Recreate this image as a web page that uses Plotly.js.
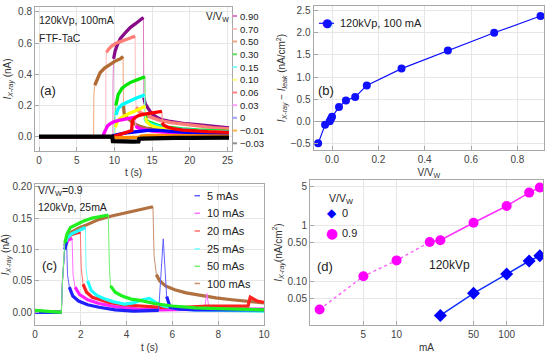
<!DOCTYPE html>
<html><head><meta charset="utf-8">
<script src="https://cdn.plot.ly/plotly-3.0.1.min.js"></script>
<style>html,body{margin:0;padding:0;background:#fff}#chart{width:550px;height:353px}</style>
</head><body><div id="chart"></div>
<script>
// ---------- Panel (a): I_X-ray vs t for several V/V_W ----------
const aLabels = ['0.90','0.70','0.50','0.30','0.15','0.10','0.06','0.03','0','\u22120.01','\u22120.03'];
const a_t_090 = [0, 9.8, 9.82, 9.9, 10.1, 10.4, 10.8, 11.5, 12.1, 12.8, 13.4, 13.85, 13.9, 14.1, 14.5, 15.0, 15.6, 16.2, 17.2, 18.3, 19.5, 21, 22.5, 24, 25.2];
const a_v_090 = [0, 0, 0.35, 0.50, 0.55, 0.59, 0.63, 0.67, 0.70, 0.725, 0.745, 0.765, 0.25, 0.21, 0.18, 0.145, 0.125, 0.11, 0.10, 0.09, 0.083, 0.077, 0.07, 0.062, 0.056];
const a_t_070 = [0, 8.85, 8.87, 8.95, 9.2, 9.6, 10.2, 10.8, 11.5, 12.2, 12.75, 12.8, 12.9, 13.3, 14, 15, 16, 17.5, 19, 21, 23, 25.2];
const a_v_070 = [0, 0, 0.4, 0.54, 0.56, 0.58, 0.60, 0.61, 0.625, 0.635, 0.645, 0.25, 0.19, 0.16, 0.14, 0.12, 0.105, 0.09, 0.08, 0.068, 0.058, 0.05];
const a_t_050 = [0, 7.25, 7.27, 7.4, 7.7, 8.1, 8.7, 9.4, 10.1, 10.8, 11.15, 11.2, 11.3, 11.7, 12.2, 12.8, 13.4, 14.2, 15, 16.5, 18, 20, 22.5, 25.2];
const a_v_050 = [0, 0, 0.26, 0.33, 0.37, 0.41, 0.44, 0.465, 0.485, 0.50, 0.515, 0.2, 0.15, 0.12, 0.10, 0.08, 0.066, 0.055, 0.05, 0.042, 0.036, 0.03, 0.026, 0.022];
const a_t_030 = [0, 10.0, 10.05, 10.2, 10.5, 11, 11.5, 12.2, 13, 13.6, 14.05, 14.1, 14.2, 14.5, 15, 15.7, 16.5, 17.5, 19, 21, 23, 25.2];
const a_v_030 = [0, 0, 0.12, 0.2, 0.27, 0.31, 0.33, 0.35, 0.365, 0.375, 0.385, 0.14, 0.11, 0.095, 0.085, 0.075, 0.065, 0.058, 0.05, 0.043, 0.038, 0.034];
const a_t_015 = [0, 10.0, 10.05, 10.2, 10.5, 11, 11.6, 12.3, 13, 13.6, 14.0, 14.05, 14.2, 14.6, 15.2, 16, 17, 18.5, 20, 22, 25.2];
const a_v_015 = [0, 0, 0.08, 0.14, 0.18, 0.205, 0.22, 0.235, 0.25, 0.26, 0.27, 0.12, 0.10, 0.085, 0.075, 0.065, 0.055, 0.048, 0.042, 0.036, 0.03];
const a_t_010 = [0, 10.1, 10.15, 10.4, 10.8, 11.3, 12, 12.7, 13.3, 13.8, 14.1, 14.15, 14.3, 14.7, 15.3, 16, 17, 18.5, 20, 22.5, 25.2];
const a_v_010 = [0, 0, 0.06, 0.10, 0.12, 0.135, 0.15, 0.163, 0.175, 0.185, 0.195, 0.12, 0.095, 0.077, 0.064, 0.055, 0.048, 0.04, 0.035, 0.03, 0.026];
const a_t_006 = [0, 9.8, 10.5, 11.5, 12.3, 12.35, 12.5, 12.8, 13.2, 13.8, 14.5, 15.2, 15.8, 16.3, 16.35, 16.5, 17, 17.8, 19, 20.5, 22.5, 25.2];
const a_v_006 = [0, 0, 0.01, 0.025, 0.04, 0.09, 0.11, 0.125, 0.135, 0.143, 0.15, 0.155, 0.16, 0.163, 0.09, 0.075, 0.062, 0.052, 0.043, 0.037, 0.032, 0.028];
const a_t_003 = [0, 8.5, 8.6, 8.8, 9.1, 9.5, 10, 10.6, 11.3, 12, 12.5, 12.8, 12.85, 13, 13.5, 14.2, 15, 16.5, 18, 20, 22.5, 25.2];
const a_v_003 = [0, 0, 0.02, 0.045, 0.07, 0.085, 0.097, 0.105, 0.112, 0.118, 0.122, 0.126, 0.07, 0.06, 0.05, 0.042, 0.036, 0.03, 0.026, 0.022, 0.019, 0.016];
const a_t_000 = [0, 9.5, 10, 10.5, 11, 12, 12.8, 13.5, 14.5, 15.5, 16.5, 18, 20, 22.5, 25.2];
const a_v_000 = [0, 0, 0.008, 0.015, 0.02, 0.027, 0.032, 0.036, 0.04, 0.042, 0.04, 0.033, 0.026, 0.02, 0.016];
const a_t_m001 = [0, 9.7, 9.8, 10.5, 11.5, 12.5, 13.3, 13.5, 14.5, 16, 18, 20, 22.5, 25.2];
const a_v_m001 = [0, 0, -0.008, -0.006, -0.005, -0.004, -0.004, 0.004, 0.008, 0.008, 0.006, 0.005, 0.004, 0.004];
const a_t_m003 = [0, 9.7, 9.8, 10.5, 11.5, 12.5, 13.2, 13.3, 13.6, 14.5, 16, 18, 20, 22.5, 25.2];
const a_v_m003 = [0, 0, -0.028, -0.03, -0.031, -0.031, -0.03, -0.014, -0.012, -0.01, -0.009, -0.008, -0.008, -0.007, -0.006];

// ---------- Panel (b) ----------
const b_ratio = [-0.06, -0.03, -0.01, -0.005, 0, 0.03, 0.06, 0.10, 0.15, 0.30, 0.50, 0.70, 0.90];
const b_current = [-0.5, -0.08, 0.0, 0.05, 0.1, 0.32, 0.47, 0.55, 0.81, 1.19, 1.6, 2.0, 2.38];

// ---------- Panel (c) ----------
const cLabels = ['5 mAs','10 mAs','20 mAs','25 mAs','50 mAs','100 mAs'];
const c_t_5 = [0, 1.15, 1.2, 1.3, 1.38, 1.42, 1.5, 1.65, 1.9, 2.3, 2.8, 3.5, 4.3, 5.0, 5.4, 5.6, 5.75, 5.9, 6.3, 7, 8, 9, 10];
const c_v_5 = [0, 0, 0.05, 0.1, 0.112, 0.06, 0.04, 0.026, 0.018, 0.012, 0.008, 0.004, 0.002, 0.002, 0.003, 0.117, 0.025, 0.008, 0.005, 0.004, 0.004, 0.004, 0.004];
const c_t_10 = [0, 1.15, 1.2, 1.3, 1.45, 1.62, 1.66, 1.75, 1.95, 2.3, 2.8, 3.5, 4.5, 5.5, 6.5, 7.4, 7.5, 7.6, 8.5, 10];
const c_v_10 = [0, 0, 0.05, 0.105, 0.115, 0.118, 0.06, 0.04, 0.028, 0.02, 0.014, 0.009, 0.005, 0.004, 0.004, 0.005, 0.03, 0.006, 0.005, 0.005];
const c_t_20 = [0, 1.15, 1.2, 1.3, 1.4, 1.6, 1.85, 1.98, 2.02, 2.1, 2.25, 2.5, 2.8, 3.2, 3.8, 4.5, 5.5, 6.5, 7.5, 8.5, 9.3, 9.4, 9.7, 10];
const c_v_20 = [0, 0, 0.05, 0.105, 0.118, 0.124, 0.127, 0.128, 0.07, 0.045, 0.032, 0.024, 0.02, 0.016, 0.012, 0.01, 0.008, 0.008, 0.01, 0.01, 0.01, 0.024, 0.018, 0.016];
const c_t_25 = [0, 1.15, 1.2, 1.3, 1.4, 1.6, 1.9, 2.2, 2.23, 2.3, 2.45, 2.7, 3.0, 3.4, 3.9, 4.3, 4.7, 5.0, 5.3, 5.6, 6.2, 7, 8.5, 10];
const c_v_25 = [0, 0, 0.05, 0.105, 0.118, 0.125, 0.13, 0.135, 0.07, 0.05, 0.035, 0.027, 0.022, 0.017, 0.013, 0.015, 0.02, 0.022, 0.015, 0.01, 0.006, 0.004, 0.003, 0.002];
const c_t_50 = [0, 1.15, 1.2, 1.3, 1.4, 1.55, 1.8, 2.1, 2.5, 2.9, 3.2, 3.25, 3.3, 3.5, 3.8, 4.2, 4.6, 5.2, 6, 7, 8, 9, 10];
const c_v_50 = [0.003, 0, 0.05, 0.11, 0.125, 0.135, 0.14, 0.145, 0.15, 0.153, 0.155, 0.07, 0.042, 0.032, 0.026, 0.021, 0.019, 0.014, 0.01, 0.007, 0.006, 0.005, 0.004];
const c_t_100 = [0, 1.15, 1.2, 1.3, 1.4, 1.6, 1.9, 2.3, 2.8, 3.3, 3.8, 4.3, 4.8, 5.15, 5.2, 5.3, 5.45, 5.7, 6.1, 6.6, 7.2, 7.9, 8.6, 9.3, 10];
const c_v_100 = [0.002, 0, 0.05, 0.105, 0.12, 0.128, 0.134, 0.14, 0.148, 0.153, 0.157, 0.161, 0.164, 0.168, 0.09, 0.06, 0.05, 0.042, 0.036, 0.031, 0.027, 0.023, 0.02, 0.017, 0.015];

// ---------- Panel (d) ----------
const d_mA_09 = [2, 5, 10, 20, 25, 50, 100, 160, 200];
const d_I_09 = [0.032, 0.125, 0.24, 0.51, 0.55, 1.13, 2.25, 3.9, 4.8];
const d_mA_0 = [25, 50, 100, 160, 200];
const d_I_0 = [0.025, 0.062, 0.137, 0.234, 0.29];

// ---------- layout helpers ----------
const W = 550, H = 353;
const FONT = 'Liberation Sans, Arial, sans-serif';
const GLYPH = 'DejaVu Sans, sans-serif';
const px = x => x / W, py = y => 1 - y / H;

const dom = {
  a: {x: [px(35), px(232)], y: [py(150.7), py(7.3)], xr: [-0.53, 25.6], yr: [-0.0898, 0.8301]},
  b: {x: [px(313.5), px(544)], y: [py(150), py(6)], xr: [-0.08, 0.915], yr: [-0.65, 2.606]},
  c: {x: [px(35), px(264)], y: [py(325), py(184.3)], xr: [0, 10], yr: [-0.0202, 0.2038]},
  d: {x: [px(310), px(543)], y: [py(325), py(180)], xr: [0.214, 2.33], yr: [-1.773, 0.816]}
};
function unitPx(d) {
  return [(d.x[1]-d.x[0])*W/(d.xr[1]-d.xr[0]), (d.y[1]-d.y[0])*H/(d.yr[1]-d.yr[0])];
}
// break the thick (dense) part of a record at its fast transitions
function thickPart(t, v, ux, uy) {
  const X = [], Y = [];
  for (let i = 0; i < t.length; i++) {
    X.push(t[i]); Y.push(v[i]);
    if (i < t.length - 1) {
      const dx = Math.abs(t[i+1]-t[i])*ux, dy = Math.abs(v[i+1]-v[i])*uy;
      if (dy > 8 && dy > 6*dx) { X.push(null); Y.push(null); }
    }
  }
  return {X, Y};
}

const traces = [];
// panel (a)
const aSeries = [[a_t_090,a_v_090],[a_t_070,a_v_070],[a_t_050,a_v_050],[a_t_030,a_v_030],[a_t_015,a_v_015],
  [a_t_010,a_v_010],[a_t_006,a_v_006],[a_t_003,a_v_003],[a_t_000,a_v_000],[a_t_m001,a_v_m001],[a_t_m003,a_v_m003]];
const aDark = ['#880a88','#ff7f78','#b06a32','#00e600','#00ffff','#ffff00','#ff0000','#ff00ff','#0000ff','#ff8c00','#000000'];
const aLight = ['#e07cc8','#ffc0c0','#f0a880','#60e060','#80ffff','#ffff80','#ff8080','#ffa0ff','#a0a0ff','#ffb050','#909090'];
const aOrder = [0,1,2,3,4,5,7,8,6,9,10];
const [aux, auy] = unitPx(dom.a);
aOrder.forEach(i => {
  const [t, v] = aSeries[i];
  traces.push({x: t, y: v, xaxis: 'x', yaxis: 'y', mode: 'lines', line: {color: aLight[i], width: 1}, hoverinfo: 'skip'});
  const k = thickPart(t, v, aux, auy);
  traces.push({x: k.X, y: k.Y, xaxis: 'x', yaxis: 'y', mode: 'lines', connectgaps: false,
    line: {color: aDark[i], width: i === 10 ? 4.2 : 3.3}, hoverinfo: 'skip'});
});
// panel (b)
traces.push({x: b_ratio, y: b_current, xaxis: 'x2', yaxis: 'y2', mode: 'lines+markers',
  line: {color: '#1010ff', width: 1.2}, marker: {color: '#1010ff', size: 8}});
// panel (c)
const cSeries = [[c_t_5,c_v_5],[c_t_10,c_v_10],[c_t_20,c_v_20],[c_t_25,c_v_25],[c_t_50,c_v_50],[c_t_100,c_v_100]];
const cDark = ['#2020ff','#ff20ff','#ff2020','#20ffff','#20f020','#b07040'];
const cLight = ['#6060ff','#ff70ff','#ff7070','#70ffff','#70f070','#c89070'];
const cOrder = [5,1,2,3,0,4];
const [cux, cuy] = unitPx(dom.c);
cOrder.forEach(i => {
  const [t, v] = cSeries[i];
  traces.push({x: t, y: v, xaxis: 'x3', yaxis: 'y3', mode: 'lines', line: {color: cLight[i], width: 1}, hoverinfo: 'skip'});
  const k = thickPart(t, v, cux, cuy);
  traces.push({x: k.X, y: k.Y, xaxis: 'x3', yaxis: 'y3', mode: 'lines', connectgaps: false,
    line: {color: cDark[i], width: 3.2}, hoverinfo: 'skip'});
});
// panel (d)
traces.push({x: d_mA_09.slice(0,4), y: d_I_09.slice(0,4), xaxis: 'x4', yaxis: 'y4', mode: 'lines',
  line: {color: '#ff55ff', width: 1.3, dash: 'dot'}});
traces.push({x: d_mA_09.slice(3), y: d_I_09.slice(3), xaxis: 'x4', yaxis: 'y4', mode: 'lines',
  line: {color: '#ff30ff', width: 1.5}});
traces.push({x: d_mA_09, y: d_I_09, xaxis: 'x4', yaxis: 'y4', mode: 'markers',
  marker: {color: '#ff00ff', size: 10, symbol: 'circle'}});
traces.push({x: d_mA_0, y: d_I_0, xaxis: 'x4', yaxis: 'y4', mode: 'lines+markers',
  line: {color: '#1030ff', width: 1.5}, marker: {color: '#0000ff', size: 10, symbol: 'diamond'}});

const axBase = {showline: true, mirror: true, linecolor: '#a8a8a8', linewidth: 1, ticks: 'inside', ticklen: 4,
  tickcolor: '#a8a8a8', showgrid: true, gridcolor: '#e6e6e6', zeroline: false,
  tickfont: {family: FONT, size: 10, color: '#444'}};
function ax(o) { return Object.assign({}, axBase, o); }
const ttl = (text) => ({text, font: {family: FONT, size: 10, color: '#333'}});
const Ix = '<i>I</i><sub><i>X-ray</i></sub>';

const layout = {
  width: W, height: H, margin: {l: 0, r: 0, t: 0, b: 0}, showlegend: false,
  paper_bgcolor: '#fff', plot_bgcolor: '#fff', font: {family: FONT, size: 10},
  xaxis: ax({domain: dom.a.x, range: dom.a.xr, anchor: 'y', dtick: 5, title: Object.assign(ttl('t (s)'), {standoff: 4})}),
  yaxis: ax({domain: dom.a.y, range: dom.a.yr, anchor: 'x', dtick: 0.2, tickformat: '.1f', title: Object.assign(ttl(Ix + ' (nA)'), {standoff: 4})}),
  xaxis2: ax({domain: dom.b.x, range: dom.b.xr, anchor: 'y2', dtick: 0.2, tickformat: '.1f', title: Object.assign(ttl('V/V<sub>W</sub>'), {standoff: 4})}),
  yaxis2: ax({domain: dom.b.y, range: dom.b.yr, anchor: 'x2', dtick: 0.5, tickformat: '.1f', zeroline: true, zerolinecolor: '#a0a0a0', zerolinewidth: 1,
    title: Object.assign(ttl(Ix + ' \u2212 <i>I</i><sub><i>leak</i></sub> (nA/cm<sup>2</sup>)'), {standoff: 3})}),
  xaxis3: ax({domain: dom.c.x, range: dom.c.xr, anchor: 'y3', dtick: 2, title: Object.assign(ttl('t (s)'), {standoff: 4})}),
  yaxis3: ax({domain: dom.c.y, range: dom.c.yr, anchor: 'x3', dtick: 0.05, tickformat: '.2f', title: Object.assign(ttl(Ix + ' (nA)'), {standoff: 4})}),
  xaxis4: ax({domain: dom.d.x, range: dom.d.xr, anchor: 'y4', type: 'log', tickvals: [5, 10, 50, 100], ticktext: ['5','10','50','100'],
    title: Object.assign(ttl('mA'), {standoff: 4})}),
  yaxis4: ax({domain: dom.d.y, range: dom.d.yr, anchor: 'x4', type: 'log', tickvals: [0.05, 0.1, 0.5, 1, 5], ticktext: ['0.05','0.10','0.50','1','5'],
    title: Object.assign(ttl(Ix + '(nA/cm<sup>2</sup>)'), {standoff: 3})}),
  annotations: [], shapes: []
};

function ann(text, x, y, size, extra) {
  layout.annotations.push(Object.assign({text, x: px(x), y: py(y), xref: 'paper', yref: 'paper', showarrow: false,
    xanchor: 'left', yanchor: 'middle', borderpad: 0, font: {family: FONT, size, color: '#222'}}, extra || {}));
}
function seg(x0, x1, y, color, width) {
  layout.shapes.push({type: 'line', xref: 'paper', yref: 'paper', x0: px(x0), x1: px(x1), y0: py(y), y1: py(y),
    line: {color, width}});
}
// panel (a) texts and legend
ann('120kVp, 100mA', 38, 20, 10.5);
ann('FTF-TaC', 38, 37.5, 10.5);
ann('(a)', 39, 90, 13);
ann('V/V<sub>W</sub>', 230, 17, 10, {xanchor: 'right'});
const aLegY = [16, 29, 41.5, 54.3, 67, 79.8, 92.5, 105.2, 117.8, 130.6, 143.3];
aLabels.forEach((lab, i) => { seg(232.5, 237, aLegY[i], aLight[i], 2); ann(lab, 238.5, aLegY[i], 9.5); });
// panel (b)
ann('(b)', 317, 90, 13);
seg(319, 334, 23.3, '#1010ff', 1.2);
ann('\u25CF', 326.7, 23.3, 12, {xanchor: 'center', font: {family: GLYPH, size: 12, color: '#1010ff'}});
ann('120kVp, 100 mA', 339, 23.3, 11);
// panel (c)
ann('V/V<sub>W</sub>=0.9', 37, 191, 10.5);
ann('120kVp, 25mA', 37, 207, 10.5);
ann('(c)', 41, 265, 13);
const cLegY = [195.7, 213.3, 231, 249, 266.3, 283.5];
cLabels.forEach((lab, i) => { seg(194.5, 200, cLegY[i], cLight[i], 1.5); ann(lab, 205.5, cLegY[i], 11); });
// panel (d)
ann('(d)', 316, 266, 13);
ann('120kVp', 428, 265, 12);
ann('V/V<sub>W</sub>', 328, 199, 10.5);
ann('\u25C6', 332.3, 212.7, 12, {xanchor: 'center', font: {family: GLYPH, size: 12, color: '#0000ff'}});
ann('0', 341.5, 212.7, 11);
ann('\u25CF', 332.3, 233.3, 13, {xanchor: 'center', font: {family: GLYPH, size: 14, color: '#ff00ff'}});
ann('0.9', 341.5, 233.3, 11);

Plotly.newPlot('chart', traces, layout, {staticPlot: true, displayModeBar: false});
</script></body></html>
